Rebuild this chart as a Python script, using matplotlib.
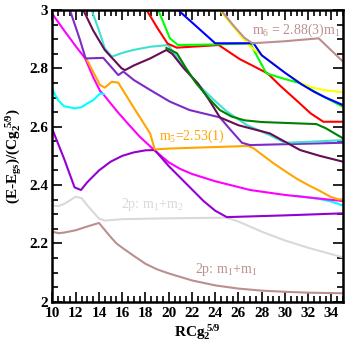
import matplotlib
matplotlib.use("Agg")
import matplotlib.pyplot as plt
from matplotlib.ticker import MultipleLocator

plt.rcParams['font.family'] = ['Liberation Serif', 'DejaVu Serif']
plt.rcParams['mathtext.fontset'] = 'custom'
plt.rcParams['mathtext.rm'] = 'Liberation Serif'
plt.rcParams['mathtext.it'] = 'Liberation Serif:italic'
plt.rcParams['mathtext.bf'] = 'Liberation Serif:bold'

# ---- data (levels) ----
brown_x = [10, 10.5, 11, 12, 13, 14, 15, 15.5, 16, 17, 18, 19, 20, 22, 24, 26, 28, 30, 32, 35]
brown_y = [2.24, 2.235, 2.237, 2.245, 2.258, 2.27, 2.222, 2.2, 2.185, 2.157, 2.13, 2.111, 2.097, 2.073, 2.056, 2.045, 2.038, 2.034, 2.031, 2.029]

gray_x = [10, 10.5, 11, 12, 12.5, 13, 14, 14.5, 16, 20, 25, 26, 28, 30, 32, 35]
gray_y = [2.33, 2.328, 2.335, 2.36, 2.355, 2.33, 2.285, 2.278, 2.283, 2.286, 2.288, 2.275, 2.24, 2.21, 2.185, 2.152]

dviolet_x = [10, 11, 11.9, 12.45, 13, 14, 15, 16, 17, 18, 18.8, 20, 21, 22, 23, 24, 25, 30, 35]
dviolet_y = [2.59, 2.49, 2.392, 2.383, 2.41, 2.45, 2.48, 2.50, 2.512, 2.519, 2.52, 2.465, 2.425, 2.385, 2.345, 2.312, 2.29, 2.296, 2.303]

magenta_x = [10, 11, 12, 12.8, 13.5, 14.1, 14.4, 15, 15.66, 16.5, 17.5, 18.8, 20, 21, 22, 24, 27, 30, 35]
magenta_y = [2.986, 2.93, 2.876, 2.835, 2.77, 2.722, 2.71, 2.68, 2.648, 2.61, 2.566, 2.518, 2.478, 2.455, 2.438, 2.413, 2.383, 2.366, 2.345]

cyan_x = [10, 10.5, 11, 11.9, 12.5, 13, 13.5, 14.1, 14.4]
cyan_y = [2.726, 2.69, 2.67, 2.663, 2.667, 2.68, 2.691, 2.714, 2.712]
cyan2_x = [31, 33, 34, 35]
cyan2_y = [2.363, 2.352, 2.343, 2.33]

orange_x = [12.9, 14.09, 14.5, 15.09, 15.66, 16.95, 18.4, 18.8, 20, 23, 26.85, 27.3, 28, 29, 30, 31, 32, 33, 33.9, 34.6, 35]
orange_y = [2.834, 2.743, 2.734, 2.754, 2.751, 2.668, 2.577, 2.522, 2.525, 2.529, 2.534, 2.526, 2.505, 2.475, 2.448, 2.422, 2.40, 2.38, 2.36, 2.351, 2.351]

bviolet_x = [11.5, 12.37, 12.85, 14.37, 15.66, 16.1, 17, 18.4, 20.1, 21.8, 24.4, 25.3, 26.3, 27, 30, 35]
bviolet_y = [3.0, 2.897, 2.834, 2.836, 2.777, 2.789, 2.76, 2.726, 2.686, 2.657, 2.632, 2.59, 2.545, 2.537, 2.54, 2.545]

maroon_x = [12.65, 13.5, 14.5, 15.95, 16.24, 17, 18.4, 19.8, 20.3, 21.3, 22.5, 23.5, 24.4, 26, 28.7, 31.3, 33, 35]
maroon_y = [3.0, 2.93, 2.863, 2.8, 2.794, 2.81, 2.834, 2.863, 2.85, 2.8, 2.749, 2.69, 2.632, 2.605, 2.577, 2.52, 2.5, 2.48]

turq_x = [13.37, 14, 14.5, 15.1, 16, 16.95, 18.4, 19.96, 21, 22, 23, 24, 25, 26.7, 28.7, 30, 32, 35]
turq_y = [3.0, 2.93, 2.869, 2.84, 2.853, 2.863, 2.874, 2.88, 2.82, 2.77, 2.726, 2.688, 2.652, 2.606, 2.571, 2.545, 2.548, 2.554]

green_x = [19.8, 20.7, 21.5, 22.3, 23.5, 24.4, 25.4, 26.5, 28, 30, 32.7, 33.5, 35]
green_y = [2.87, 2.852, 2.8, 2.752, 2.695, 2.657, 2.635, 2.622, 2.616, 2.613, 2.609, 2.595, 2.56]

red_x = [18.1, 19, 19.9, 20.7, 24.3, 26.1, 28.5, 29.6, 31, 32.2, 33.3, 35]
red_y = [3.0, 2.94, 2.885, 2.871, 2.88, 2.832, 2.783, 2.74, 2.69, 2.646, 2.617, 2.617]

lime_x = [19.1, 20.1, 20.8, 24, 27, 28.4, 29.6, 31.3, 33, 35]
lime_y = [3.0, 2.903, 2.88, 2.882, 2.886, 2.783, 2.768, 2.749, 2.71, 2.668]

blue_x = [20.8, 22.1, 24, 27.3, 28, 29, 30, 31.4, 32.5, 33.5, 35]
blue_y = [3.0, 2.954, 2.886, 2.886, 2.845, 2.815, 2.785, 2.746, 2.72, 2.70, 2.674]

yellow_x = [24.4, 25, 26.1, 27, 28, 29, 30, 31.4, 32.3, 33.3, 35]
yellow_y = [3.0, 2.97, 2.917, 2.875, 2.845, 2.815, 2.785, 2.749, 2.735, 2.726, 2.718]

m6_x = [24.5, 25.5, 26.5, 27.2, 30, 32.9, 35]
m6_y = [3.0, 2.95, 2.905, 2.886, 2.893, 2.903, 2.823]

xticks = [10, 12, 14, 16, 18, 20, 22, 24, 26, 28, 30, 32, 34]
yticks = [2, 2.2, 2.4, 2.6, 2.8, 3]
ytick_labels = ['2', '2.2', '2.4', '2.6', '2.8', '3']

fig = plt.figure(figsize=(3.49, 3.46), dpi=100)
ax = fig.add_axes([0.1504, 0.128, 0.8326, 0.843])

lw = 1.5
ax.plot(brown_x, brown_y, color='#bc8f8f', lw=lw)
ax.plot(gray_x, gray_y, color='#d9d9d9', lw=lw)
ax.plot(cyan2_x, cyan2_y, color='#00ffff', lw=lw)
ax.plot(magenta_x, magenta_y, color='#ff00ff', lw=lw)
ax.plot(dviolet_x, dviolet_y, color='#9400d3', lw=lw)
ax.plot(cyan_x, cyan_y, color='#00ffff', lw=lw)
ax.plot(orange_x, orange_y, color='#ffa500', lw=lw)
ax.plot(bviolet_x, bviolet_y, color='#7d2bc8', lw=lw)
ax.plot(turq_x, turq_y, color='#40e0d0', lw=lw)
ax.plot(maroon_x, maroon_y, color='#660d55', lw=lw)
ax.plot(green_x, green_y, color='#008000', lw=lw)
ax.plot(red_x, red_y, color='#ff0000', lw=lw)
ax.plot(lime_x, lime_y, color='#00ff00', lw=lw)
ax.plot(yellow_x, yellow_y, color='#ffff00', lw=lw)
ax.plot(blue_x, blue_y, color='#0000ff', lw=lw)
ax.plot(m6_x, m6_y, color='#bc8f8f', lw=lw)

ax.text(30.95, 2.918, r'm$_6$ = 2.88(3)m$_1$', color='#bc8f8f', fontsize=10, ha='center', va='baseline')
ax.text(19.2, 2.556, r'm$_5$=2.53(1)', color='#ffa500', fontsize=10, ha='left', va='baseline')
ax.text(18.6, 2.322, r'2p: m$_1$+m$_2$', color='#d9d9d9', fontsize=10, ha='center', va='baseline')
ax.text(24.9, 2.10, r'2p: m$_1$+m$_1$', color='#bc8f8f', fontsize=10, ha='center', va='baseline')

ax.set_xlim(10, 35)
ax.set_ylim(2, 3)
ax.set_xticks(xticks)
ax.set_yticks(yticks)
ax.set_yticklabels(ytick_labels)
ax.xaxis.set_minor_locator(MultipleLocator(0.5))
ax.yaxis.set_minor_locator(MultipleLocator(0.05))
ax.tick_params(which='both', direction='in', top=True, right=True, width=1.2)
ax.tick_params(which='major', length=7, labelsize=11)
ax.tick_params(axis='x', which='major', pad=4)
ax.tick_params(axis='y', which='major', pad=3)
ax.tick_params(which='minor', length=4)
for lab in ax.get_xticklabels() + ax.get_yticklabels():
    lab.set_fontweight('bold')
for s in ax.spines.values():
    s.set_linewidth(1.8)

ax.set_xlabel(r'$\mathbf{RCg_2^{\ 5/9}}$', fontsize=11, labelpad=1)
ax.set_ylabel(r'$\mathbf{(E\text{-}E_{gs})/(Cg_2^{\ 5/9})}$', fontsize=11, labelpad=4)

fig.savefig('out.png', dpi=100)
